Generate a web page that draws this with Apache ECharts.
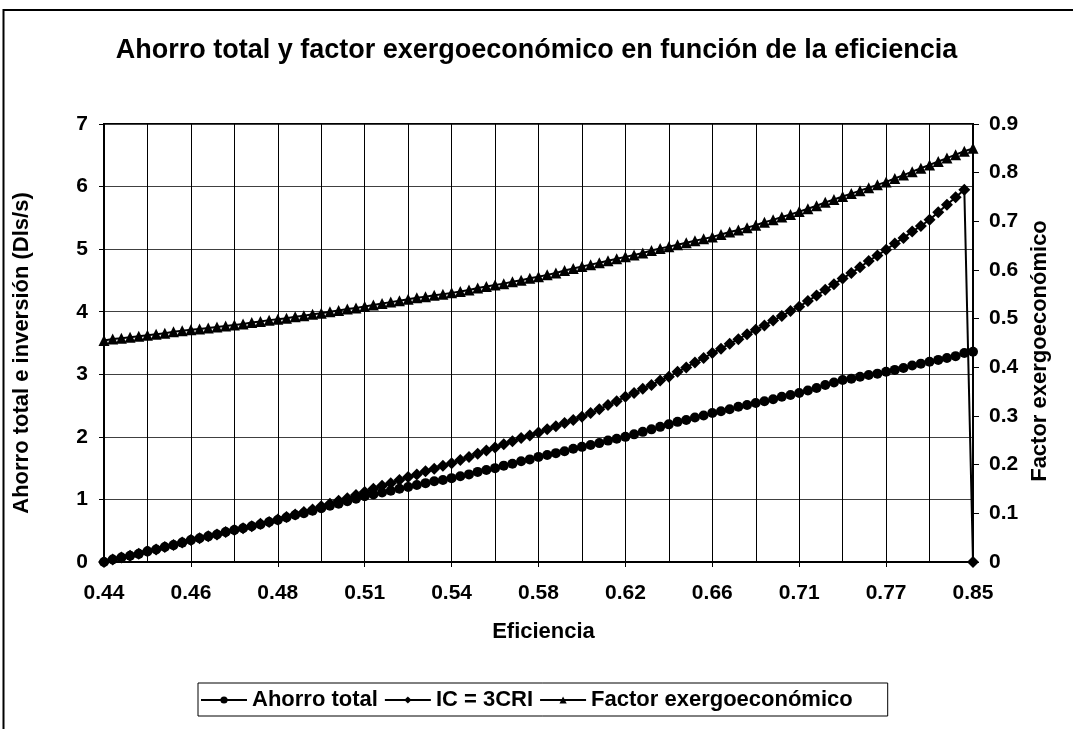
<!DOCTYPE html>
<html>
<head>
<meta charset="utf-8">
<script src="https://cdn.jsdelivr.net/npm/echarts@6/dist/echarts.min.js"></script>
<style>
  html, body { margin: 0; padding: 0; background: #fff; }
  #chart { width: 1073px; height: 729px; }
</style>
</head>
<body>
<div id="chart"></div>
<script>
// Efficiency values along the category axis (one per computed case)
const eficiencia = [
  '0.44','0.44','0.44','0.45','0.45','0.45','0.45','0.45','0.46','0.46',
  '0.46','0.46','0.46','0.47','0.47','0.47','0.47','0.47','0.48','0.48',
  '0.48','0.48','0.49','0.49','0.49','0.49','0.50','0.50','0.50','0.51',
  '0.51','0.51','0.51','0.52','0.52','0.52','0.53','0.53','0.53','0.54',
  '0.54','0.54','0.55','0.55','0.56','0.56','0.56','0.57','0.57','0.58',
  '0.58','0.58','0.59','0.59','0.60','0.60','0.60','0.61','0.61','0.62',
  '0.62','0.62','0.63','0.63','0.64','0.64','0.64','0.65','0.65','0.66',
  '0.66','0.67','0.67','0.68','0.68','0.68','0.69','0.69','0.70','0.70',
  '0.71','0.72','0.72','0.73','0.73','0.74','0.74','0.75','0.75','0.76',
  '0.77','0.78','0.79','0.79','0.80','0.81','0.82','0.82','0.83','0.84',
  '0.85'
];

// Ahorro total (Dls/s)
const ahorroTotal = [
  0.00, 0.04, 0.07, 0.10, 0.13, 0.17,
  0.20, 0.24, 0.27, 0.31, 0.35,
  0.38, 0.41, 0.44, 0.48, 0.51,
  0.54, 0.57, 0.60, 0.64, 0.67,
  0.71, 0.75, 0.78, 0.82, 0.86,
  0.90, 0.93, 0.97, 1.01, 1.05,
  1.08, 1.11, 1.14, 1.17, 1.20,
  1.23, 1.26, 1.29, 1.31, 1.34,
  1.37, 1.40, 1.44, 1.47, 1.50,
  1.54, 1.57, 1.61, 1.64, 1.68,
  1.71, 1.74, 1.77, 1.81, 1.84,
  1.87, 1.90, 1.94, 1.97, 2.00,
  2.04, 2.08, 2.12, 2.16, 2.20,
  2.24, 2.27, 2.31, 2.34, 2.38,
  2.41, 2.44, 2.48, 2.51, 2.54,
  2.57, 2.60, 2.64, 2.67, 2.70,
  2.74, 2.78, 2.83, 2.87, 2.91,
  2.93, 2.96, 2.99, 3.01, 3.04,
  3.07, 3.10, 3.14, 3.17, 3.20,
  3.23, 3.26, 3.29, 3.34, 3.36
];

// Inversión con IC = 3CRI (Dls/s)
const inversionIC = [
  0.00, 0.04, 0.07, 0.10, 0.13, 0.17,
  0.20, 0.24, 0.27, 0.31, 0.35,
  0.38, 0.41, 0.44, 0.48, 0.51,
  0.54, 0.57, 0.61, 0.64, 0.68,
  0.72, 0.76, 0.80, 0.84, 0.89,
  0.93, 0.98, 1.02, 1.07, 1.12,
  1.17, 1.22, 1.26, 1.31, 1.36,
  1.40, 1.45, 1.49, 1.54, 1.58,
  1.63, 1.68, 1.73, 1.78, 1.83,
  1.88, 1.93, 1.98, 2.02, 2.07,
  2.12, 2.17, 2.22, 2.27, 2.32,
  2.38, 2.44, 2.51, 2.57, 2.64,
  2.70, 2.77, 2.83, 2.90, 2.96,
  3.04, 3.11, 3.19, 3.26, 3.34,
  3.41, 3.49, 3.56, 3.64, 3.71,
  3.78, 3.86, 3.93, 4.01, 4.08,
  4.17, 4.26, 4.35, 4.44, 4.53,
  4.62, 4.71, 4.81, 4.90, 4.99,
  5.09, 5.18, 5.28, 5.37, 5.47,
  5.59, 5.71, 5.83, 5.95, 0.00
];

// Factor exergoeconómico (right axis)
const factorExergo = [
  0.455, 0.458, 0.460, 0.462, 0.464, 0.466,
  0.468, 0.470, 0.473, 0.475, 0.477,
  0.479, 0.481, 0.483, 0.485, 0.487,
  0.489, 0.492, 0.494, 0.497, 0.499,
  0.501, 0.504, 0.506, 0.509, 0.511,
  0.514, 0.517, 0.520, 0.522, 0.525,
  0.528, 0.531, 0.534, 0.537, 0.540,
  0.543, 0.545, 0.548, 0.550, 0.553,
  0.556, 0.559, 0.563, 0.566, 0.569,
  0.572, 0.576, 0.579, 0.583, 0.586,
  0.590, 0.594, 0.599, 0.603, 0.607,
  0.611, 0.615, 0.619, 0.623, 0.627,
  0.631, 0.635, 0.640, 0.644, 0.648,
  0.652, 0.656, 0.660, 0.664, 0.668,
  0.673, 0.678, 0.682, 0.687, 0.692,
  0.698, 0.703, 0.709, 0.714, 0.720,
  0.726, 0.732, 0.739, 0.745, 0.751,
  0.757, 0.763, 0.769, 0.775, 0.781,
  0.788, 0.795, 0.802, 0.809, 0.816,
  0.823, 0.830, 0.837, 0.844, 0.850
];

const seriesNames = ['Ahorro total', 'IC = 3CRI', 'Factor exergoeconómico'];

const FONT = '"Liberation Sans", Arial, sans-serif';
const chart = echarts.init(document.getElementById('chart'), null, { renderer: 'canvas' });

const lineSeries = (name, data, symbol, size, yAxisIndex) => ({
  name, type: 'line', data, yAxisIndex,
  symbol, symbolSize: size, showSymbol: true, showAllSymbol: true,
  itemStyle: { color: '#000' },
  lineStyle: { color: '#000', width: 2 },
  animation: false
});

const boldText = (size) => ({ fontFamily: FONT, fontWeight: 'bold', fontSize: size, color: '#000' });

chart.setOption({
  backgroundColor: '#fff',
  animation: false,
  title: {
    text: 'Ahorro total y factor exergoeconómico en función de la eficiencia',
    left: 'center', top: 32,
    textStyle: boldText(27)
  },
  graphic: [{
    type: 'rect', silent: true,
    shape: { x: 3.5, y: 10, width: 1100, height: 760 },
    style: { fill: null, stroke: '#000', lineWidth: 2 }
  }],
  grid: {
    left: 104, right: 100, top: 124, bottom: 167,
    show: true, borderColor: '#000', borderWidth: 2, backgroundColor: '#fff'
  },
  legend: {
    left: 198, top: 683,
    padding: [6, 35, 5, 2],
    itemGap: 6, itemWidth: 46, itemHeight: 9,
    borderColor: '#000', borderWidth: 1,
    data: seriesNames,
    textStyle: boldText(22)
  },
  xAxis: {
    type: 'category', data: eficiencia, boundaryGap: false,
    name: 'Eficiencia', nameLocation: 'middle', nameGap: 59,
    nameTextStyle: Object.assign(boldText(22), { padding: [0, 0, 0, 10] }),
    axisLine: { lineStyle: { color: '#000', width: 2 } },
    axisTick: { show: true, interval: 9, length: 5, lineStyle: { color: '#000' } },
    axisLabel: Object.assign(boldText(21), { interval: 9, margin: 21 }),
    splitLine: { show: true, interval: 4, lineStyle: { color: '#000', width: 1 } }
  },
  yAxis: [{
    type: 'value', min: 0, max: 7, interval: 1,
    name: 'Ahorro total e inversión (Dls/s)', nameLocation: 'middle', nameGap: 71, nameRotate: 90,
    nameTextStyle: Object.assign(boldText(22), { padding: [0, 20, 0, 0] }),
    axisLine: { show: true, lineStyle: { color: '#000', width: 2 } },
    axisTick: { show: true, length: 5, lineStyle: { color: '#000' } },
    axisLabel: Object.assign(boldText(21), { margin: 16 }),
    splitLine: { show: true, lineStyle: { color: '#404040', width: 1.2 } }
  }, {
    type: 'value', min: 0, max: 0.9, interval: 0.1, position: 'right',
    name: 'Factor exergoeconómico', nameLocation: 'middle', nameGap: 56, nameRotate: 90,
    nameTextStyle: Object.assign(boldText(22), { padding: [0, 16, 0, 0] }),
    axisLine: { show: true, lineStyle: { color: '#000', width: 2 } },
    axisTick: { show: true, length: 6, lineStyle: { color: '#000' } },
    axisLabel: Object.assign(boldText(21), { margin: 16,
      formatter: v => (v === 0 ? '0' : v.toFixed(1)) }),
    splitLine: { show: false }
  }],
  series: [
    lineSeries(seriesNames[0], ahorroTotal, 'circle', 10, 0),
    lineSeries(seriesNames[1], inversionIC, 'diamond', 12, 0),
    lineSeries(seriesNames[2], factorExergo, 'triangle', 11, 1)
  ]
});
</script>
</body>
</html>
